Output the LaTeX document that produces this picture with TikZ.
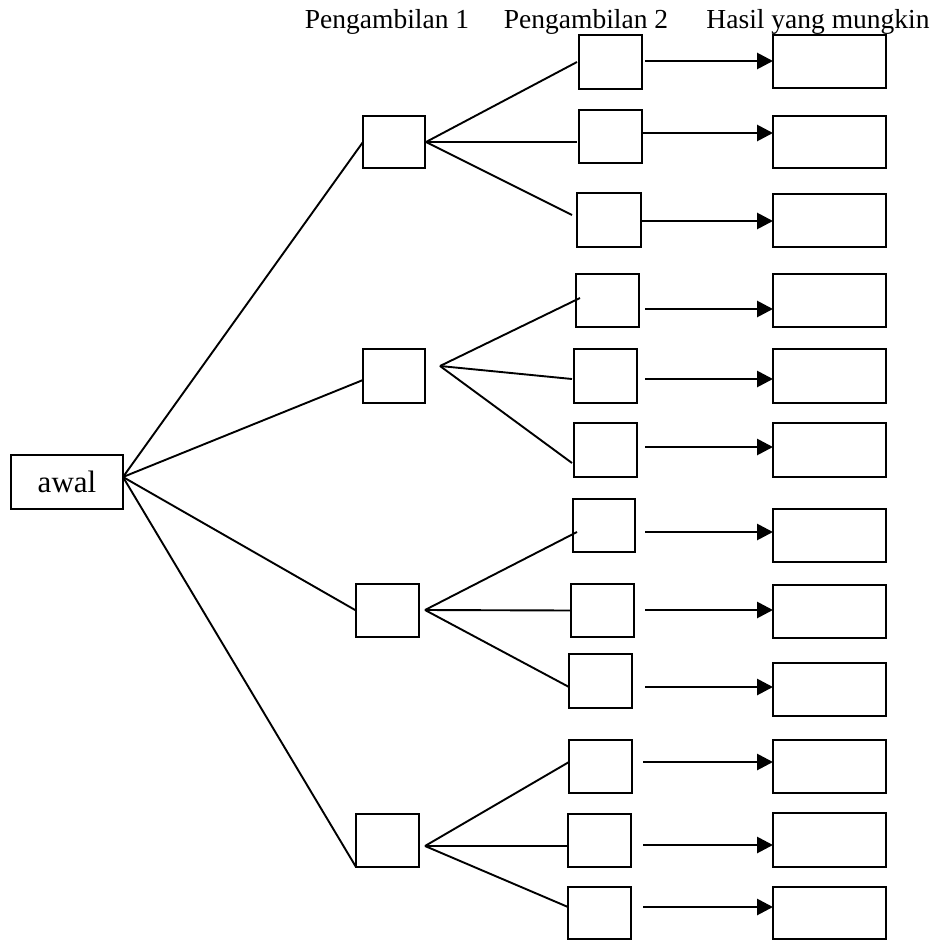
\documentclass[tikz,border=0pt]{standalone}
\usepackage{fontspec}
\setmainfont{Liberation Serif}
\usetikzlibrary{arrows.meta}
\begin{document}
\begin{tikzpicture}[x=1pt,y=-1pt,
  bx/.style={draw,line width=2pt,minimum width=63pt,minimum height=53pt,inner sep=0pt,outer sep=0pt},
  rbx/.style={draw,line width=2pt,minimum width=113pt,minimum height=53pt,inner sep=0pt,outer sep=0pt},
  ln/.style={line width=1.9pt},
  arr/.style={line width=2.8pt,-{Triangle[length=16pt,width=16pt]}},
  hdr/.style={font=\fontsize{27.5}{30}\selectfont,anchor=base,inner sep=0pt}]
\useasboundingbox (0,0) rectangle (933,940);
% header
\node[hdr] (h1) at (387,28) {Pengambilan 1};
\node[hdr] (h2) at (586,28) {Pengambilan 2};
\node[hdr] (h3) at (818,28) {Hasil yang mungkin};
% root
\node[draw,line width=2pt,minimum width=112pt,minimum height=54pt,inner sep=0pt,outer sep=0pt,font=\fontsize{31}{34}\selectfont] (awal) at (67,482) {awal\hspace{13pt}};
\coordinate (ao) at (123,477);
% level 1
\node[bx,minimum width=62pt,minimum height=52pt] (B1) at (394,142) {};
\node[bx,minimum width=62pt,minimum height=54pt] (B2) at (394,376) {};
\node[bx] (B3) at (387.5,610.5) {};
\node[bx] (B4) at (387.5,840.5) {};
% level 2
\node[bx,minimum height=54pt] (C11) at (610.5,62) {};
\node[bx] (C12) at (610.5,136.5) {};
\node[bx,minimum width=64pt,minimum height=54pt] (C13) at (609,220) {};
\node[bx] (C21) at (607.5,300.5) {};
\node[bx,minimum height=54pt] (C22) at (605.5,376) {};
\node[bx,minimum height=54pt] (C23) at (605.5,450) {};
\node[bx,minimum width=62pt] (C31) at (604,525.5) {};
\node[bx] (C32) at (602.5,610.5) {};
\node[bx,minimum height=54pt] (C33) at (600.5,681) {};
\node[bx] (C41) at (600.5,766.5) {};
\node[bx] (C42) at (599.5,840.5) {};
\node[bx,minimum height=52pt] (C43) at (599.5,913) {};
% results
\node[rbx] (R1) at (829.5,61.5) {};
\node[rbx,minimum height=52pt] (R2) at (829.5,142) {};
\node[rbx] (R3) at (829.5,220.5) {};
\node[rbx] (R4) at (829.5,300.5) {};
\node[rbx,minimum height=54pt] (R5) at (829.5,376) {};
\node[rbx,minimum height=54pt] (R6) at (829.5,450) {};
\node[rbx] (R7) at (829.5,535.5) {};
\node[rbx] (R8) at (829.5,611.5) {};
\node[rbx] (R9) at (829.5,689.5) {};
\node[rbx] (R10) at (829.5,766.5) {};
\node[rbx,minimum height=54pt] (R11) at (829.5,840) {};
\node[rbx,minimum height=52pt] (R12) at (829.5,913) {};
% root to level 1
\draw[ln] (ao) -- (B1.west);
\draw[ln] (ao) -- ([yshift=-4pt]B2.west);
\draw[ln] (ao) -- (B3.west);
\draw[ln] (ao) -- (B4.south west);
% level 1 to level 2
\coordinate (b1o) at (426,142);
\coordinate (b2o) at (440,366);
\coordinate (b3o) at (425,610);
\coordinate (b4o) at (425,846);
\draw[ln] (b1o) -- ([xshift=-2pt]C11.west);
\draw[ln] (b1o) -- ([xshift=-2pt,yshift=-5.5pt]C12.west);
\draw[ln] (b1o) -- ([xshift=-5pt,yshift=5pt]C13.west);
\draw[ln] (b2o) -- ([xshift=4pt,yshift=2.5pt]C21.west);
\draw[ln] (b2o) -- ([xshift=-2pt,yshift=-3pt]C22.west);
\draw[ln] (b2o) -- ([xshift=-2pt,yshift=-13pt]C23.west);
\draw[ln] (b3o) -- ([xshift=4pt,yshift=-6.5pt]C31.west);
\draw[ln] (b3o) -- (C32.west);
\draw[ln] (b3o) -- ([yshift=-6pt]C33.west);
\draw[ln] (b4o) -- ([yshift=4.5pt]C41.west);
\draw[ln] (b4o) -- ([yshift=-5.5pt]C42.west);
\draw[ln] (b4o) -- ([yshift=6pt]C43.west);
% arrows to results
\coordinate (a1) at (645,61);
\coordinate (a2) at (642,133);
\coordinate (a3) at (641,221);
\coordinate (a4) at (645,309);
\coordinate (a5) at (645,379);
\coordinate (a6) at (645,447);
\coordinate (a7) at (645,532);
\coordinate (a8) at (645,610);
\coordinate (a9) at (645,687);
\coordinate (a10) at (643,762);
\coordinate (a11) at (643,845);
\coordinate (a12) at (643,907);
\foreach \i in {1,...,12}{
  \draw[arr] (a\i) -- (a\i -| R\i.west);
}
\end{tikzpicture}
\end{document}
